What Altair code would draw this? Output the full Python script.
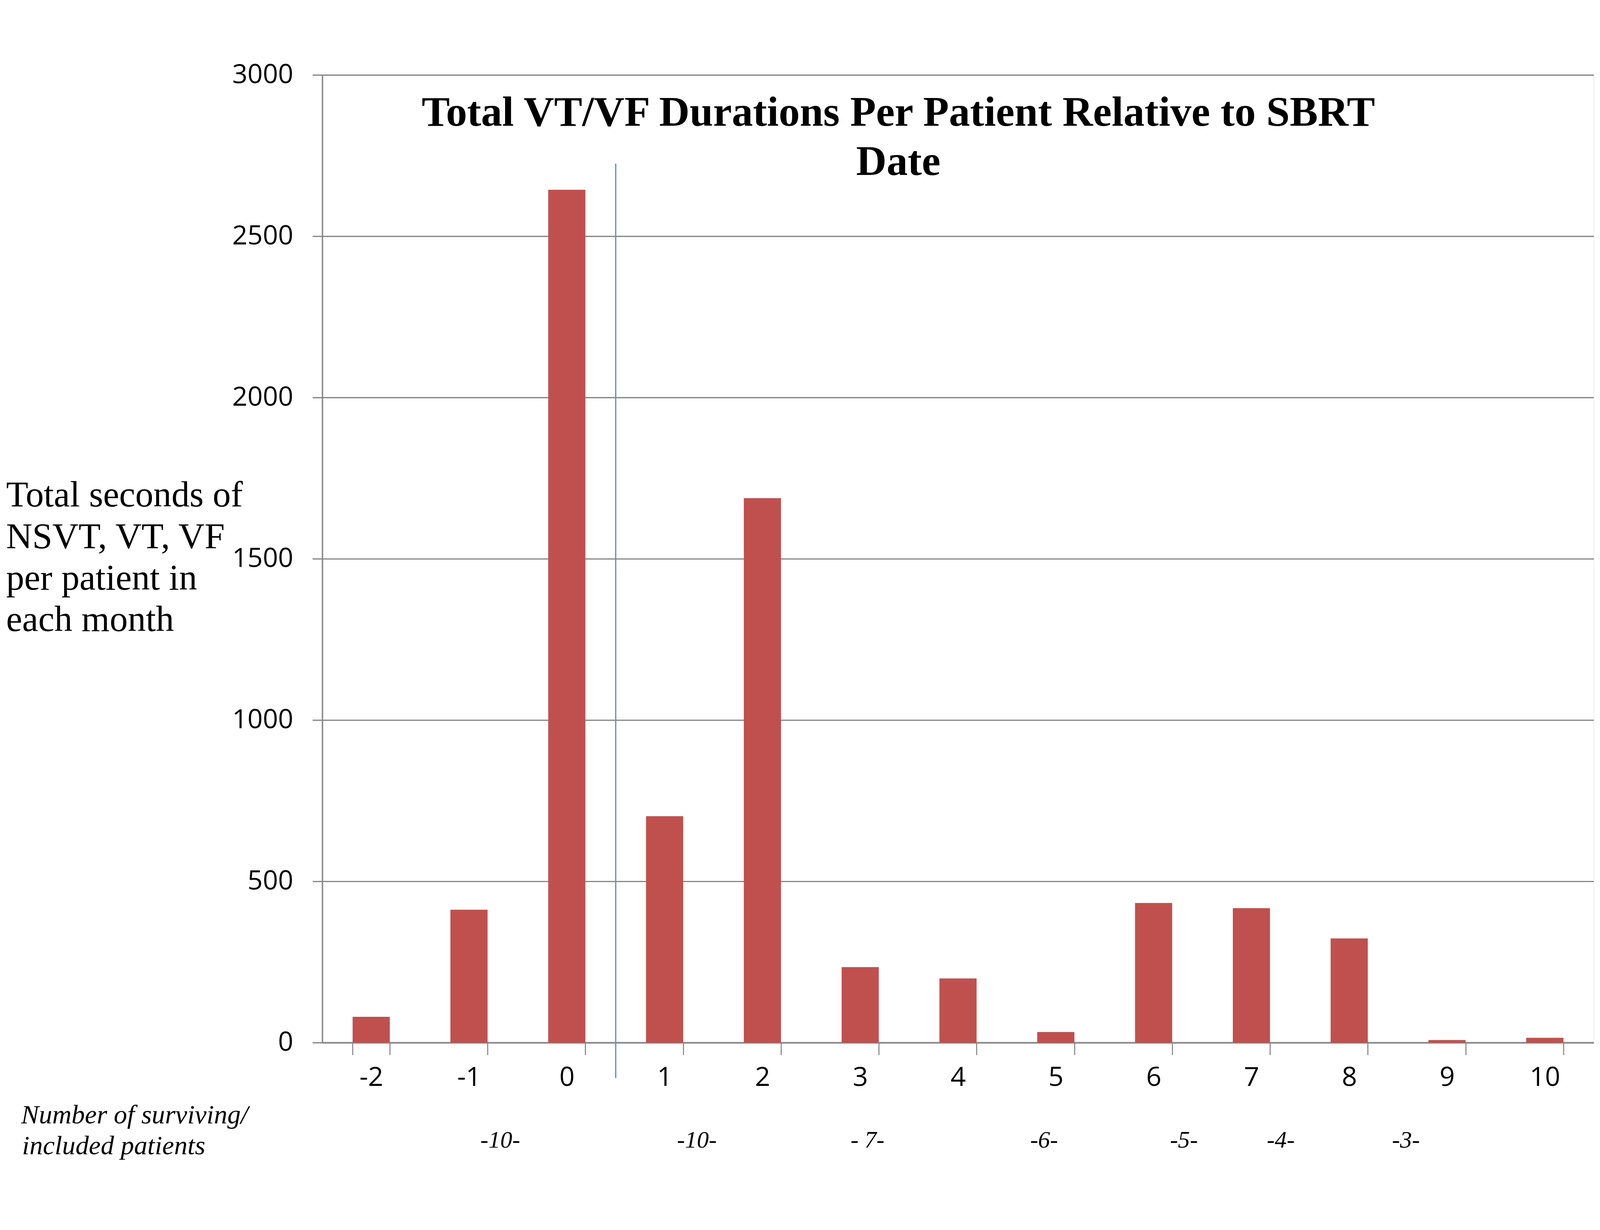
import altair as alt
import pandas as pd

# Months relative to SBRT date and total seconds of NSVT/VT/VF per patient
months = ["-2", "-1", "0", "1", "2", "3", "4", "5", "6", "7", "8", "9", "10"]
seconds = [80, 412, 2644, 702, 1688, 234, 199, 33, 433, 417, 323, 8, 15]

# SBRT marker line (between month 0 and month 1), in band-index units
sbrt_pos = [3.0]
sbrt_top = [2725]
sbrt_bottom = [-110]

# Number of surviving / included patients annotations
count_labels = ["-10-", "-10-", "- 7-", "-6-", "-5-", "-4-", "-3-"]
count_pos = [1.82, 3.83, 5.575, 7.38, 8.81, 9.80, 11.08]
count_y = [-325, -325, -325, -325, -325, -325, -325]

note_lines = ["Number  of surviving/", "included patients"]
note_pos = [-3.08, -3.07]
note_y = [-251, -346]

# Chart title (drawn inside the plot area, as in the original)
title_text = ["Total VT/VF Durations  Per Patient Relative to SBRT\nDate"]
title_pos = [5.89]
title_y = [2842]

ylabel_lines = ["Total seconds of", "NSVT,  VT,  VF", "per patient  in", "each month"]
y_ticks = [0, 500, 1000, 1500, 2000, 2500, 3000]

GRAY = "#868686"
YDOM = [0, 3000]

bars_df = pd.DataFrame({"month": months, "seconds": seconds})
sbrt_df = pd.DataFrame({"pos": sbrt_pos, "top": sbrt_top, "bottom": sbrt_bottom})
count_df = pd.DataFrame({"pos": count_pos, "y": count_y, "label": count_labels})
note_df = pd.DataFrame({"pos": note_pos, "y": note_y, "label": note_lines})
title_df = pd.DataFrame({"pos": title_pos, "y": title_y, "label": title_text})

xq = dict(scale=alt.Scale(domain=[0, 13], nice=False, zero=False), axis=None)


def yq(field):
    return alt.Y(field, scale=alt.Scale(domain=YDOM, nice=False))


bars = alt.Chart(bars_df).mark_bar(color="#C0504D").encode(
    x=alt.X(
        "month:O",
        sort=months,
        scale=alt.Scale(paddingInner=0.62, paddingOuter=0.31),
        axis=alt.Axis(
            title=None,
            labelAngle=0,
            tickBand="extent",
            domainColor=GRAY,
            domainWidth=4.5,
            tickColor=GRAY,
            tickWidth=3,
            tickSize=35,
            labelFont="Open Sans",
            labelFontSize=76,
            labelColor="black",
            labelPadding=28,
            grid=False,
        ),
    ),
    y=alt.Y(
        "seconds:Q",
        scale=alt.Scale(domain=YDOM, nice=False),
        axis=alt.Axis(
            values=y_ticks,
            format="d",
            labelLimit=1000,
            grid=True,
            gridColor=GRAY,
            gridWidth=3.5,
            domainColor=GRAY,
            domainWidth=4,
            tickColor=GRAY,
            tickWidth=3.5,
            tickSize=28,
            labelFont="Open Sans",
            labelFontSize=76,
            labelColor="black",
            labelPadding=55,
            title=ylabel_lines,
            titleAngle=0,
            titleAlign="left",
            titleBaseline="alphabetic",
            titleX=-900,
            titleY=1228,
            titleFont="Liberation Serif",
            titleFontSize=103,
            titleFontWeight="normal",
            titleColor="black",
            titleLineHeight=118,
            titleLimit=2000,
        ),
    ),
)

sbrt = alt.Chart(sbrt_df).mark_rule(color="#5B8FC9", strokeWidth=3.5).encode(
    x=alt.X("pos:Q", **xq),
    y=yq("top:Q"),
    y2="bottom:Q",
)

counts = alt.Chart(count_df).mark_text(
    font="Liberation Serif", fontStyle="italic", fontSize=68,
    align="center", baseline="alphabetic", color="black",
).encode(
    x=alt.X("pos:Q", **xq),
    y=yq("y:Q"),
    text="label:N",
)

notes = alt.Chart(note_df).mark_text(
    font="Liberation Serif", fontStyle="italic", fontSize=76,
    align="left", baseline="alphabetic", color="black",
).encode(
    x=alt.X("pos:Q", **xq),
    y=yq("y:Q"),
    text="label:N",
)

title = alt.Chart(title_df).mark_text(
    font="Liberation Serif", fontWeight="bold", fontSize=120,
    align="center", baseline="alphabetic", color="black",
    lineBreak="\n", lineHeight=139,
).encode(
    x=alt.X("pos:Q", **xq),
    y=yq("y:Q"),
    text="label:N",
)

chart = alt.layer(bars, sbrt, counts, notes, title).resolve_scale(x="independent").properties(
    width=3617,
    height=2754,
    autosize=alt.AutoSizeParams(type="none"),
    padding={"left": 908, "top": 30, "right": 9, "bottom": 350},
).configure_view(stroke=None).configure(background="white")

chart.save("out.html", embed_options={"renderer": "svg", "actions": False})
